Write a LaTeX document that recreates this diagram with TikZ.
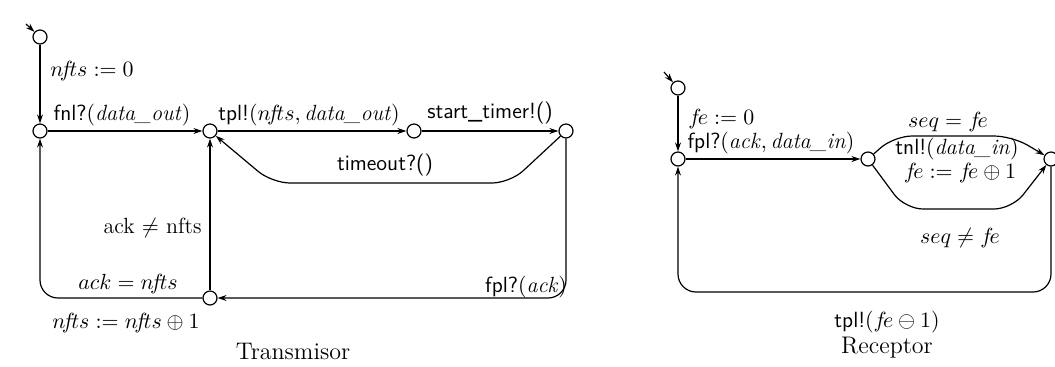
\documentclass[tikz,border=0pt]{standalone}
\usetikzlibrary{arrows.meta}
\begin{document}
\begin{tikzpicture}[x=0.5pt,y=-0.5pt,
  st/.style={circle,draw,line width=0.6pt,minimum size=7pt,inner sep=0pt},
  tr/.style={draw,line width=0.6pt,-{Stealth[length=4.5pt,width=3pt]},rounded corners=9pt},
  lab/.style={font=\fontsize{11}{13}\selectfont,inner sep=1pt},
  captext/.style={font=\fontsize{12}{14}\selectfont,inner sep=0pt}]
\useasboundingbox (0,0) rectangle (1055,366);
% ---------- Transmisor ----------
\node[st] (T0) at (40,37) {};
\node[st] (T1) at (40,131) {};
\node[st] (T2) at (210,131) {};
\node[st] (T3) at (414,131) {};
\node[st] (T4) at (566,131) {};
\node[st] (T5) at (210,298) {};
\coordinate (i0) at (26,24);
\coordinate (ta) at (510,183);
\coordinate (tb) at (272,183);
\coordinate (tc) at (566,298);
\coordinate (td) at (40,298);
\draw[tr] (i0) -- (T0);
\draw[tr] (T0) -- (T1);
\draw[tr] (T1) -- (T2);
\draw[tr] (T2) -- (T3);
\draw[tr] (T3) -- (T4);
\draw[tr] (T4) -- (ta) -- (tb) -- (T2);
\draw[tr] (T4) -- (tc) -- (T5);
\draw[tr] (T5) -- (T2);
\draw[tr] (T5) -- (td) -- (T1);
\node[lab,anchor=west] (l1) at (48,71) {$n\!f\!ts := 0$};
\node[lab,anchor=south] (l2) at (122,128) {\textsf{fnl?}$($\textit{data\_out}$)$};
\node[lab,anchor=south] (l3) at (309,128) {\textsf{tpl!}$(n\!f\!ts,$\,\textit{data\_out}$)$};
\node[lab,anchor=south] (l4) at (490,126) {\textsf{start\_timer!()}};
\node[lab] (l5) at (385,165) {\textsf{timeout?()}};
\node[lab,anchor=east] (l6) at (204,228) {ack $\neq$ nfts};
\node[lab] (l7) at (128,284) {$ack = n\!f\!ts$};
\node[lab] (l8) at (126,323) {$n\!f\!ts := n\!f\!ts \oplus 1$};
\node[lab] (l9) at (526,287) {\textsf{fpl?}$($\textit{ack}$)$};
\node[captext] (c1) at (293,351) {Transmisor};
% ---------- Receptor ----------
\node[st] (R0) at (678,88) {};
\node[st] (R1) at (678,159) {};
\node[st] (R2) at (868,159) {};
\node[st] (R3) at (1051,159) {};
\coordinate (i1) at (664,72);
\coordinate (ra) at (894,136);
\coordinate (rb) at (1012,136);
\coordinate (rc) at (905,209);
\coordinate (rd) at (1012,209);
\coordinate (re) at (1051,292);
\coordinate (rf) at (678,292);
\draw[tr] (i1) -- (R0);
\draw[tr] (R0) -- (R1);
\draw[tr] (R1) -- (R2);
\draw[tr] (R2) -- (ra) -- (rb) -- (R3);
\draw[tr] (R2) -- (rc) -- (rd) -- (R3);
\draw[tr] (R3) -- (re) -- (rf) -- (R1);
\node[lab,anchor=west] (m1) at (686,119) {$f\!e := 0$};
\node[lab,anchor=south] (m2) at (771,156) {\textsf{fpl?}$($\textit{ack}$,$\,\textit{data\_in}$)$};
\node[lab] (m3) at (948,122) {$seq = f\!e$};
\node[lab] (m4) at (957,149) {\textsf{tnl!}$($\textit{data\_in}$)$};
\node[lab] (m5) at (960,173) {$f\!e := f\!e \oplus 1$};
\node[lab] (m6) at (960,238) {$seq \neq f\!e$};
\node[lab] (m7) at (887,322) {\textsf{tpl!}$(f\!e \ominus 1)$};
\node[captext] (c2) at (887,348) {Receptor};
\end{tikzpicture}
\end{document}
